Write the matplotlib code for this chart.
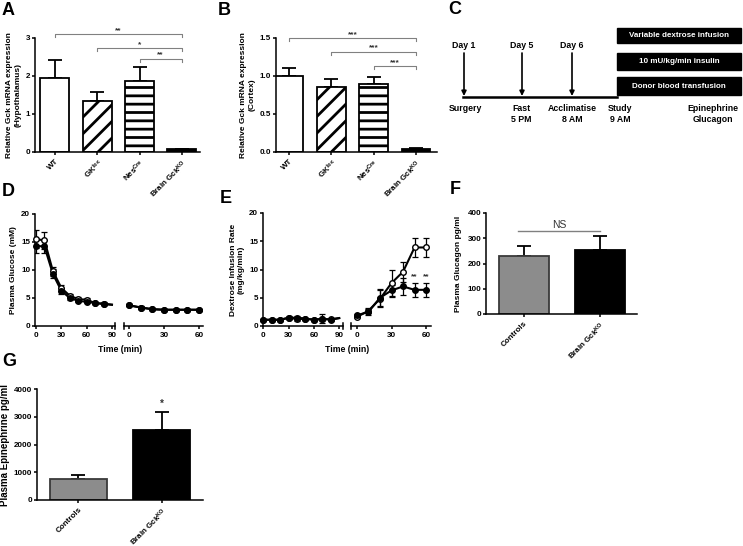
import numpy as np
import matplotlib
matplotlib.use('Agg')
import matplotlib.pyplot as plt
from matplotlib.patches import Rectangle

plt.rcParams['font.family'] = ['Liberation Sans', 'DejaVu Sans']
plt.rcParams['font.weight'] = 'bold'
plt.rcParams['axes.labelweight'] = 'bold'
plt.rcParams['mathtext.fontset'] = 'custom'
plt.rcParams['mathtext.rm'] = 'Liberation Sans:bold'
plt.rcParams['mathtext.it'] = 'Liberation Sans:bold'
plt.rcParams['mathtext.bf'] = 'Liberation Sans:bold'
plt.rcParams['hatch.linewidth'] = 2.0
plt.rcParams['axes.linewidth'] = 1.1
plt.rcParams['xtick.major.width'] = 1.1
plt.rcParams['ytick.major.width'] = 1.1
plt.rcParams['xtick.major.size'] = 2.5
plt.rcParams['ytick.major.size'] = 2.5
plt.rcParams['xtick.labelsize'] = 5.8
plt.rcParams['ytick.labelsize'] = 5.8
plt.rcParams['xtick.major.pad'] = 1.5
plt.rcParams['ytick.major.pad'] = 1.0

# ---- data ----
genotypes = ['WT', 'GK$^{lox}$', 'Nes$^{Cre}$', 'Brain Gck$^{KO}$']
hyp_mean = [1.95, 1.35, 1.88, 0.07]
hyp_sem = [0.48, 0.22, 0.36, 0.02]
ctx_mean = [1.00, 0.85, 0.90, 0.04]
ctx_sem = [0.10, 0.11, 0.09, 0.01]
pairs = [(0, 3), (1, 3), (2, 3)]
hyp_stars = ['**', '*', '**']
ctx_stars = ['***', '***', '***']

t_basal = [0, 10, 20, 30, 40, 50, 60, 70, 80, 90]
t_clamp = [0, 10, 20, 30, 40, 50, 60]

glu_ctrl_basal = [15.5, 15.3, 9.8, 6.8, 5.4, 4.8, 4.7, 4.1, 4.0, 3.8]
glu_ctrl_basal_err = [1.6, 1.5, 0.8, 0.6, 0.3, 0.3, 0.3, 0.2, 0.2, 0.0]
glu_ko_basal = [14.3, 14.2, 9.3, 6.3, 5.0, 4.5, 4.3, 4.1, 3.9, 3.8]
glu_ko_basal_err = [1.3, 1.2, 0.8, 0.5, 0.3, 0.2, 0.2, 0.2, 0.2, 0.0]
glu_ctrl_clamp = [3.7, 3.3, 3.0, 2.9, 2.9, 2.9, 2.9]
glu_ctrl_clamp_err = [0.2, 0.2, 0.2, 0.2, 0.2, 0.2, 0.2]
glu_ko_clamp = [3.7, 3.3, 3.0, 2.9, 2.9, 2.9, 2.9]
glu_ko_clamp_err = [0.2, 0.2, 0.2, 0.2, 0.2, 0.2, 0.2]

dex_ctrl_basal = [1.1, 1.1, 1.1, 1.5, 1.2, 1.3, 1.1, 1.2, 1.2, 1.4]
dex_ctrl_basal_err = [0.2, 0.15, 0.15, 0.2, 0.3, 0.2, 0.2, 0.3, 0.2, 0.0]
dex_ko_basal = [1.1, 1.1, 1.1, 1.4, 1.5, 1.3, 1.1, 1.3, 1.1, 1.4]
dex_ko_basal_err = [0.2, 0.15, 0.15, 0.2, 0.3, 0.2, 0.2, 0.8, 0.2, 0.0]
dex_ctrl_clamp = [1.6, 2.7, 4.8, 7.6, 9.6, 13.9, 13.9]
dex_ctrl_clamp_err = [0.2, 0.4, 1.5, 2.4, 1.8, 1.6, 1.7]
dex_ko_clamp = [1.9, 2.5, 5.0, 6.3, 7.0, 6.4, 6.4]
dex_ko_clamp_err = [0.2, 0.5, 1.5, 1.0, 1.5, 1.2, 1.2]
dex_stars_t = [50, 60]

groups = ['Controls', 'Brain Gck$^{KO}$']
glucagon = [228, 255]
glucagon_err = [40, 55]
epinephrine = [760, 2530]
epinephrine_err = [150, 650]

days = ['Day 1', 'Day 5', 'Day 6']
events = ['Surgery', 'Fast\n5 PM', 'Acclimatise\n8 AM', 'Study\n9 AM', 'Epinephrine\nGlucagon']
boxes = ['Variable dextrose infusion', '10 mU/kg/min insulin', 'Donor blood transfusion']

W, H = 743, 546
fig = plt.figure(figsize=(W / 100, H / 100), dpi=100)


def px_axes(l, t, r, b):
    return fig.add_axes([l / W, 1 - b / H, (r - l) / W, (b - t) / H])


def clean(ax):
    ax.spines['top'].set_visible(False)
    ax.spines['right'].set_visible(False)
    ax.tick_params(direction='out')


gray = '#808080'


def bar_panel(ax, labels, means, errs, fills, hatches, width):
    x = np.arange(len(means))
    bars = ax.bar(x, means, width=width, color=fills, edgecolor='k', linewidth=1.3, zorder=2)
    for b, h in zip(bars, hatches):
        if h:
            b.set_hatch(h)
    ax.errorbar(x, means, yerr=[np.zeros(len(errs)), errs], fmt='none', ecolor='k',
                elinewidth=1.3, capsize=5, capthick=1.3, zorder=1)
    ax.set_xticks(x)
    ax.set_xticklabels(labels, rotation=45, ha='right', rotation_mode='anchor')
    clean(ax)


def brackets(ax, ys, stars, d):
    for (i, j), y, s in zip(pairs, ys, stars):
        ax.plot([i, i, j, j], [y - d, y, y, y - d], color=gray, lw=0.8, clip_on=False)
        ax.text((i + j) / 2, y, s, ha='center', va='bottom', fontsize=6, color='#333333')


# ---- A ----
axA = px_axes(35, 38, 200, 152)
bar_panel(axA, genotypes, hyp_mean, hyp_sem, ['white', 'white', 'white', 'black'],
          [None, '//', '--', None], 0.69)
axA.set_xlim(-0.47, 3.43)
axA.set_ylim(0, 3)
axA.set_yticks([0, 1, 2, 3])
brackets(axA, [3.1, 2.74, 2.46], hyp_stars, 0.08)
axA.set_ylabel('Relative Gck mRNA expression\n(Hypothalamus)', fontsize=6, labelpad=3)

# ---- B ----
axB = px_axes(276, 38, 437, 152)
bar_panel(axB, genotypes, ctx_mean, ctx_sem, ['white', 'white', 'white', 'black'],
          [None, '//', '--', None], 0.68)
axB.set_xlim(-0.31, 3.5)
axB.set_ylim(0, 1.5)
axB.set_yticks([0, 0.5, 1.0, 1.5])
axB.set_yticklabels(['0.0', '0.5', '1.0', '1.5'])
brackets(axB, [1.5, 1.32, 1.13], ctx_stars, 0.04)
axB.set_ylabel('Relative Gck mRNA expression\n(Cortex)', fontsize=6, labelpad=3)


# ---- D / E time courses ----
def course(ax, t, ctrl, ctrl_err, ko, ko_err, nmark):
    ax.errorbar(t[:nmark], ctrl[:nmark], yerr=ctrl_err[:nmark], fmt='none', ecolor='k',
                elinewidth=0.9, capsize=2, capthick=0.9, zorder=2)
    ax.errorbar(t[:nmark], ko[:nmark], yerr=ko_err[:nmark], fmt='none', ecolor='k',
                elinewidth=0.9, capsize=2, capthick=0.9, zorder=2)
    ax.plot(t, ctrl, color='k', lw=1.5, zorder=3)
    ax.plot(t, ko, color='k', lw=1.5, zorder=3)
    ax.plot(t[:nmark], ctrl[:nmark], 'o', ms=4, mfc='white', mec='k', mew=1.0, zorder=4, clip_on=False)
    ax.plot(t[:nmark], ko[:nmark], 'o', ms=4, mfc='k', mec='k', zorder=5, clip_on=False)
    clean(ax)


def seg_axes(l1, r1, l2, r2, top, bot, xl1, xl2):
    a1 = px_axes(l1, top, r1, bot)
    a2 = px_axes(l2, top, r2, bot)
    for a, xl in ((a1, xl1), (a2, xl2)):
        a.set_xlim(*xl)
        a.set_ylim(0, 20)
    a1.set_xticks([0, 30, 60, 90])
    a2.set_xticks([0, 30, 60])
    a1.set_yticks([0, 5, 10, 15, 20])
    return a1, a2


axD1, axD2 = seg_axes(35, 115, 124, 203, 214, 326, (-1.2, 93.6), (-4.3, 63.4))
course(axD1, t_basal, glu_ctrl_basal, glu_ctrl_basal_err, glu_ko_basal, glu_ko_basal_err, 9)
course(axD2, t_clamp, glu_ctrl_clamp, glu_ctrl_clamp_err, glu_ko_clamp, glu_ko_clamp_err, 7)
axD1.set_ylabel('Plasma Glucose (mM)', fontsize=6, labelpad=3)

axE1, axE2 = seg_axes(263, 343, 351, 431, 213, 326, (-0.3, 94.5), (-5.2, 64.3))
course(axE1, t_basal, dex_ctrl_basal, dex_ctrl_basal_err, dex_ko_basal, dex_ko_basal_err, 9)
course(axE2, t_clamp, dex_ctrl_clamp, dex_ctrl_clamp_err, dex_ko_clamp, dex_ko_clamp_err, 7)
axE1.set_ylabel('Dextrose Infusion Rate\n(mg/kg/min)', fontsize=6, labelpad=3)
for tt in dex_stars_t:
    axE2.text(tt, 8.8, '**', ha='center', va='center', fontsize=6, color='#333333')

for a2 in (axD2, axE2):
    a2.spines['left'].set_visible(False)
    a2.tick_params(axis='y', left=False, labelleft=False)
    a2.plot([0, 0], [-0.03, 0.03], transform=a2.transAxes, color='k', lw=1.1, clip_on=False)
for a1 in (axD1, axE1):
    a1.plot([1, 1], [-0.03, 0.03], transform=a1.transAxes, color='k', lw=1.1, clip_on=False)

fig.text(120 / W, 1 - 349 / H, 'Time (min)', ha='center', va='center', fontsize=6.3)
fig.text(347 / W, 1 - 349 / H, 'Time (min)', ha='center', va='center', fontsize=6.3)

# ---- F ----
axF = px_axes(486, 213, 637, 314)
bar_panel(axF, groups, glucagon, glucagon_err, ['#8c8c8c', 'black'], [None, None], 0.66)
axF.patches[0].set_edgecolor('#3a3a3a')
axF.set_xlim(-0.5, 1.49)
axF.set_ylim(0, 400)
axF.set_yticks([0, 100, 200, 300, 400])
axF.plot([-0.08, 1.0], [327, 327], color=gray, lw=1.0, clip_on=False)
axF.text(0.46, 333, 'NS', ha='center', va='bottom', fontsize=7.5, color='#333333', fontweight='normal')
axF.set_ylabel('Plasma Glucagon pg/ml', fontsize=6, labelpad=4)

# ---- G ----
axG = px_axes(37, 389, 203, 500)
bar_panel(axG, groups, epinephrine, epinephrine_err, ['#8c8c8c', 'black'], [None, None], 0.68)
axG.patches[0].set_edgecolor('#3a3a3a')
axG.set_xlim(-0.49, 1.49)
axG.set_ylim(0, 4000)
axG.set_yticks([0, 1000, 2000, 3000, 4000])
axG.text(1, 3480, '*', ha='center', va='center', fontsize=7, color='#333333')
axG.set_ylabel('Plasma Epinephrine pg/ml', fontsize=7, labelpad=3)

# ---- C : protocol diagram (pixel coordinates) ----
axC = fig.add_axes([0, 0, 1, 1], zorder=-1)
axC.set_xlim(0, W)
axC.set_ylim(H, 0)
axC.axis('off')
day_x = [464, 522, 572]
for x, d in zip(day_x, days):
    axC.text(x, 46, d, ha='center', va='center', fontsize=6.3)
    axC.annotate('', xy=(x, 96), xytext=(x, 53),
                 arrowprops=dict(arrowstyle='-|>', color='k', lw=1.2, mutation_scale=7,
                                 shrinkA=0, shrinkB=0))
axC.plot([463, 617], [97, 97], color='k', lw=1.8)
box_top = [28, 53, 77]
box_h = [15, 17, 18]
for yt, hh, s in zip(box_top, box_h, boxes):
    axC.add_patch(Rectangle((617, yt), 124, hh, color='black'))
    axC.text(679, yt + hh / 2, s, ha='center', va='center', fontsize=5.8, color='white')
ev_x = [465, 521, 572, 620, 713]
for x, s in zip(ev_x, events):
    axC.text(x, 104, s, ha='center', va='top', fontsize=6.3, linespacing=1.25)

# ---- panel letters ----
for s, x, y in [('A', 2, 2), ('B', 218, 2), ('C', 448, 1), ('D', 2, 183),
                ('E', 220, 190), ('F', 450, 181), ('G', 2, 353)]:
    fig.text(x / W, 1 - y / H, s, ha='left', va='top', fontsize=13, fontweight='bold')

fig.savefig('out.png', dpi=100)
